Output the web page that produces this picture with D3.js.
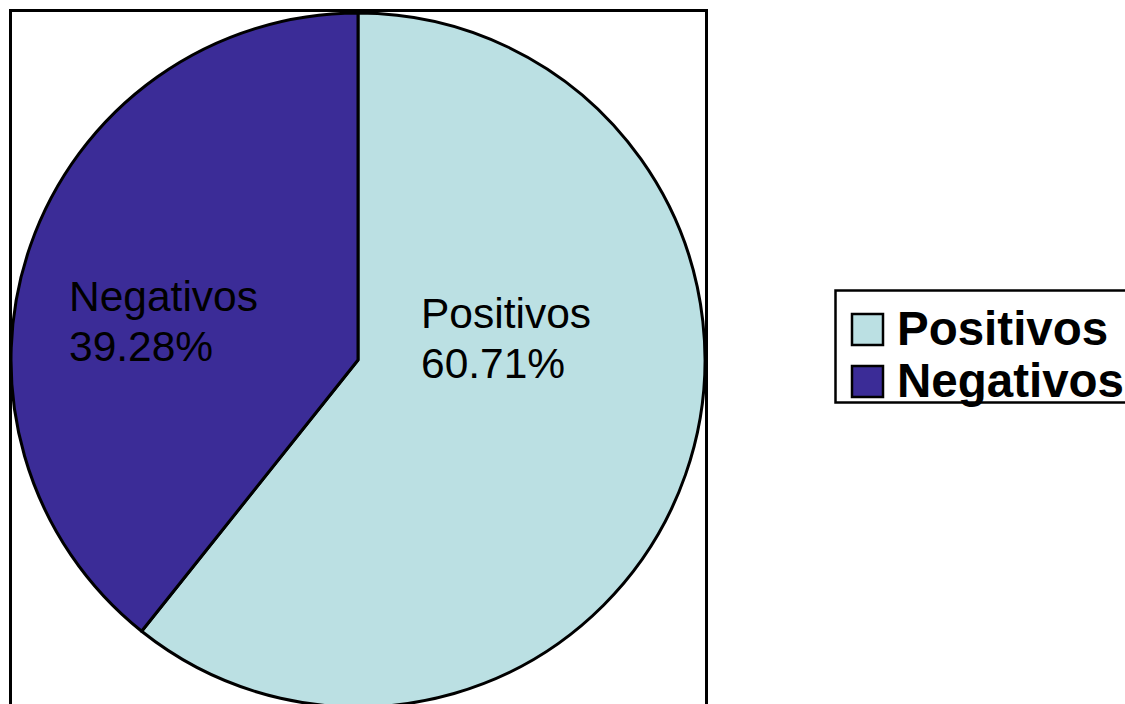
<!DOCTYPE html>
<html>
<head>
<meta charset="utf-8">
<script src="https://cdn.jsdelivr.net/npm/d3@7"></script>
<style>
  html, body { margin: 0; padding: 0; background: #fff; }
  svg { display: block; }
</style>
</head>
<body>
<svg id="chart" width="1125" height="704"></svg>
<script>
// Pie slices: categories, shares (%) and fill colours
const categories = ["Positivos", "Negativos"];
const shares = [60.71, 39.28];
const sliceColors = ["#bbe0e3", "#3b2c97"];
const sliceLabels = ["60.71%", "39.28%"];

const svg = d3.select("#chart");
const font = "'Liberation Sans', Arial, sans-serif";

// Plot frame
svg.append("rect")
  .attr("x", 10.5).attr("y", 10.5)
  .attr("width", 696).attr("height", 700)
  .attr("fill", "#fff")
  .attr("stroke", "#000").attr("stroke-width", 3);

const cx = 358, cy = 360, r = 347;

const pie = d3.pie().sort(null).value(d => d.value);
const arcs = pie(categories.map((c, i) => ({ name: c, value: shares[i], label: sliceLabels[i] })));
const arc = d3.arc().innerRadius(0).outerRadius(r);
const color = d3.scaleOrdinal().domain(categories).range(sliceColors);

const g = svg.append("g").attr("transform", `translate(${cx},${cy})`);
g.selectAll("path.slice")
  .data(arcs)
  .join("path")
  .attr("class", "slice")
  .attr("d", arc)
  .attr("fill", d => color(d.data.name))
  .attr("stroke", "#000")
  .attr("stroke-width", 3)
  .attr("stroke-linejoin", "round");

// In-slice labels (name and percentage on two lines)
const labelPos = { "Positivos": [421, 328], "Negativos": [69, 311] };
arcs.forEach(d => {
  const [x, y] = labelPos[d.data.name];
  const t = svg.append("text")
    .attr("x", x).attr("y", y)
    .attr("font-family", font)
    .attr("font-size", 42.5)
    .attr("fill", "#000");
  t.append("tspan").attr("x", x).text(d.data.name);
  t.append("tspan").attr("x", x).attr("dy", 50).text(d.data.label);
});

// Legend
const legend = svg.append("g");
legend.append("rect")
  .attr("x", 835.5).attr("y", 290.5)
  .attr("width", 300).attr("height", 112)
  .attr("fill", "#fff")
  .attr("stroke", "#000").attr("stroke-width", 2.5);

const rowY = d3.scalePoint().domain(categories).range([345, 397]);
const rows = legend.selectAll("g.row")
  .data(categories)
  .join("g")
  .attr("class", "row");

rows.append("rect")
  .attr("x", 852).attr("y", d => rowY(d) - 31)
  .attr("width", 31).attr("height", 31)
  .attr("fill", d => color(d))
  .attr("stroke", "#000").attr("stroke-width", 2.5);

rows.append("text")
  .attr("x", 897).attr("y", d => rowY(d))
  .attr("font-family", font)
  .attr("font-size", 47.5)
  .attr("font-weight", "bold")
  .attr("fill", "#000")
  .text(d => d);
</script>
</body>
</html>
